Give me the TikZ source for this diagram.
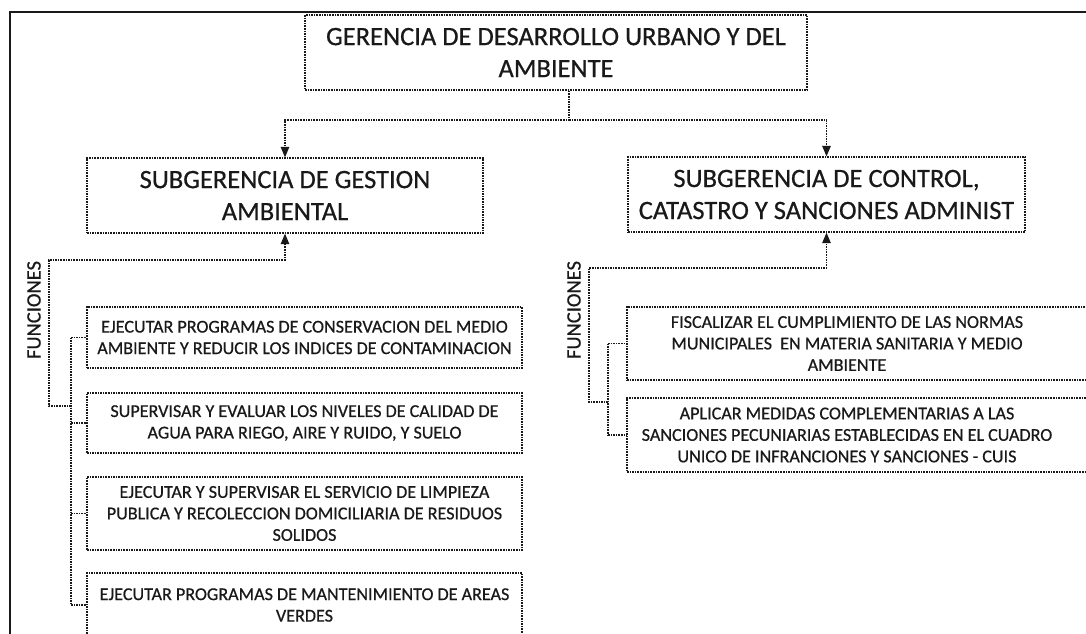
\documentclass[tikz,border=0pt]{standalone}
\usepackage{fontspec}
\setmainfont[FakeBold=0.6]{Carlito}
\usepackage{tikz}
\usetikzlibrary{arrows}

\definecolor{ink}{RGB}{25,25,25}

\begin{document}
\begin{tikzpicture}[x=1pt,y=-1pt,
    headbox/.style={draw=ink,dash pattern=on 1.6pt off 1pt,line width=1.4pt,text=ink,align=center,
        font=\fontsize{26.5}{32}\selectfont,minimum height=75pt,inner sep=0pt},
    funcbox/.style={draw=ink,dash pattern=on 1.6pt off 1pt,line width=1.4pt,text=ink,align=center,
        font=\fontsize{18.1}{21.5}\selectfont,inner sep=0pt},
    funclabel/.style={rotate=90,text=ink,font=\fontsize{20.5}{21}\selectfont},
    conn/.style={draw=ink,dash pattern=on 1.6pt off 1pt,line width=1.4pt}]
\clip (0,0) rectangle (1086,633);
\fill[white] (0,0) rectangle (1086,633);
\begin{scope}[>=triangle 45]

    % marco
    \draw[ink,line width=1.6pt] (10,650) -- (10,12) -- (1100,12);

    % gerencia y subgerencias
    \node[headbox,minimum width=502pt] (gerencia) at (556,52.5)
        {GERENCIA DE DESARROLLO URBANO Y DEL\\AMBIENTE};
    \node[headbox,minimum width=396pt] (subgestion) at (285,195.5)
        {SUBGERENCIA DE GESTION\\AMBIENTAL};
    \node[headbox,minimum width=397pt] (subcontrol) at (826.5,194.5)
        {SUBGERENCIA DE CONTROL,\\CATASTRO Y SANCIONES ADMINIST};

    \coordinate (gout) at ([xshift=13pt]gerencia.south);
    \coordinate (split) at (569,120);
    \draw[conn,->] (gout) -- (split) -| (subgestion.north);
    \draw[conn,->] (split) -| (subcontrol.north);

    % funciones gestion ambiental
    \node[funclabel] (funcg) at (34,310) {FUNCIONES};
    \node[funcbox,minimum width=435pt,minimum height=61pt] (fg1) at (304.5,337.5)
        {EJECUTAR PROGRAMAS DE CONSERVACION DEL MEDIO\\AMBIENTE Y REDUCIR LOS INDICES DE CONTAMINACION};
    \node[funcbox,minimum width=435pt,minimum height=60pt] (fg2) at (304.5,423)
        {SUPERVISAR Y EVALUAR LOS NIVELES DE CALIDAD DE\\AGUA PARA RIEGO, AIRE Y RUIDO, Y SUELO};
    \node[funcbox,minimum width=435pt,minimum height=73pt] (fg3) at (304.5,513.5)
        {EJECUTAR Y SUPERVISAR EL SERVICIO DE LIMPIEZA\\PUBLICA Y RECOLECCION DOMICILIARIA DE RESIDUOS\\SOLIDOS};
    \node[funcbox,minimum width=435pt,minimum height=64pt] (fg4) at (304.5,605)
        {EJECUTAR PROGRAMAS DE MANTENIMIENTO DE AREAS\\VERDES};

    \coordinate (gbend) at (49,260);
    \coordinate (gfoot) at (49,406);
    \coordinate (gbus) at (71,406);
    \draw[conn,->] (gbus) -- (gfoot) -- (gbend) -| (subgestion.south);
    \draw[conn] (fg1.west -| gbus) -- (fg4.west -| gbus);
    \foreach \f in {fg1,fg2,fg3,fg4}
        \draw[conn] (\f.west -| gbus) -- (\f.west);

    % funciones control
    \node[funclabel] (funcc) at (574,310) {FUNCIONES};
    \node[funcbox,minimum width=468pt,minimum height=73pt] (fc1) at (861,343.5)
        {\parbox{440pt}{\centering FISCALIZAR EL CUMPLIMIENTO DE LAS NORMAS\\
        MUNICIPALES \ EN MATERIA SANITARIA Y MEDIO\\AMBIENTE}\hspace{28pt}};
    \node[funcbox,minimum width=468pt,minimum height=74pt] (fc2) at (861,435)
        {\parbox{440pt}{\centering APLICAR MEDIDAS COMPLEMENTARIAS A LAS\\
        SANCIONES PECUNIARIAS ESTABLECIDAS EN EL CUADRO\\
        UNICO DE INFRANCIONES Y SANCIONES - CUIS}\hspace{28pt}};

    \coordinate (cbend) at (589,268);
    \coordinate (cfoot) at (589,402);
    \coordinate (cbus) at (608,402);
    \draw[conn,->] (cbus) -- (cfoot) -- (cbend) -| (subcontrol.south);
    \draw[conn] (fc1.west -| cbus) -- (fc2.west -| cbus);
    \foreach \f in {fc1,fc2}
        \draw[conn] (\f.west -| cbus) -- (\f.west);

\end{scope}
\end{tikzpicture}
\end{document}
